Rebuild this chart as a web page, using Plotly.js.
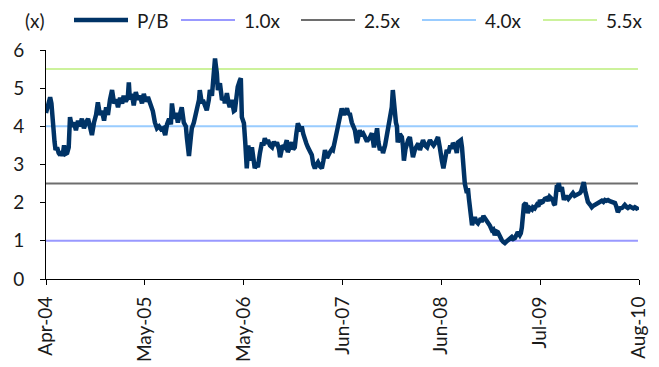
<!DOCTYPE html>
<html>
<head>
<meta charset="utf-8">
<script src="https://cdn.plot.ly/plotly-3.0.1.min.js"></script>
<style>
  html, body { margin: 0; padding: 0; background: #fff; }
  #chart { width: 659px; height: 367px; }
</style>
</head>
<body>
<div id="chart"></div>
<script>
// Price-to-book ratio history with fixed valuation bands
const pbDates = [
  '2004-04-19','2004-04-27','2004-05-05','2004-05-10','2004-05-16','2004-05-22','2004-05-26','2004-06-01','2004-06-07','2004-06-13',
  '2004-06-18','2004-06-22','2004-06-28','2004-07-04','2004-07-10','2004-07-16','2004-07-21','2004-07-28','2004-08-05','2004-08-13',
  '2004-08-21','2004-08-28','2004-09-05','2004-09-13','2004-09-21','2004-09-29','2004-10-06','2004-10-14','2004-10-22','2004-10-30',
  '2004-11-06','2004-11-14','2004-11-22','2004-11-30','2004-12-08','2004-12-15','2004-12-23','2004-12-31',
  '2005-01-08','2005-01-16','2005-01-23','2005-01-31','2005-02-08','2005-02-14','2005-02-22','2005-03-02','2005-03-06','2005-03-10',
  '2005-03-18','2005-03-25','2005-04-02','2005-04-10','2005-04-18','2005-04-26','2005-05-03','2005-05-11','2005-05-19','2005-05-27',
  '2005-06-03','2005-06-07','2005-06-15','2005-06-23','2005-07-01','2005-07-09','2005-07-17','2005-07-25','2005-08-01','2005-08-09',
  '2005-08-16','2005-08-20','2005-08-28','2005-09-05','2005-09-12','2005-09-20','2005-09-27','2005-10-05','2005-10-13','2005-10-17',
  '2005-10-25','2005-11-01','2005-11-05','2005-11-13','2005-11-19','2005-11-25','2005-12-03','2005-12-06','2005-12-14','2005-12-18',
  '2005-12-26',
  '2006-01-02','2006-01-10','2006-01-14','2006-01-22','2006-01-26','2006-01-30','2006-02-03','2006-02-06','2006-02-10','2006-02-14',
  '2006-02-22','2006-03-02','2006-03-10','2006-03-13','2006-03-21','2006-03-28','2006-04-01','2006-04-09','2006-04-17','2006-04-21',
  '2006-04-28','2006-05-02','2006-05-10','2006-05-14','2006-05-18','2006-05-26','2006-05-31','2006-06-02','2006-06-06','2006-06-12',
  '2006-06-18','2006-06-26','2006-07-01','2006-07-07','2006-07-13','2006-07-19','2006-07-27','2006-08-04','2006-08-09','2006-08-15',
  '2006-08-21','2006-08-27','2006-09-04','2006-09-12','2006-09-19','2006-09-25','2006-10-01','2006-10-09','2006-10-13','2006-10-19',
  '2006-10-23','2006-10-31','2006-11-08','2006-11-12','2006-11-20','2006-11-27','2006-12-03','2006-12-09','2006-12-15','2006-12-21',
  '2006-12-29',
  '2007-01-05','2007-01-11','2007-01-17','2007-01-23','2007-01-29','2007-02-06','2007-02-13','2007-02-19','2007-02-25','2007-03-03',
  '2007-03-09','2007-03-17','2007-03-24','2007-03-30','2007-04-05','2007-04-13','2007-04-21','2007-04-24','2007-05-02','2007-05-06',
  '2007-05-13','2007-05-21','2007-05-27','2007-06-01','2007-06-05','2007-06-09','2007-06-17','2007-06-23','2007-06-29','2007-07-06',
  '2007-07-10','2007-07-18','2007-07-22','2007-07-30','2007-08-07','2007-08-12','2007-08-18','2007-08-26','2007-09-01','2007-09-07',
  '2007-09-15','2007-09-18','2007-09-26','2007-10-04','2007-10-12','2007-10-18','2007-10-24','2007-10-29','2007-11-04','2007-11-12',
  '2007-11-16','2007-11-24','2007-11-30','2007-12-08','2007-12-14','2007-12-20','2007-12-24','2007-12-28',
  '2008-01-01','2008-01-05','2008-01-09','2008-01-12','2008-01-20','2008-01-28','2008-02-01','2008-02-05','2008-02-11','2008-02-16',
  '2008-02-22','2008-02-28','2008-03-07','2008-03-11','2008-03-19','2008-03-26','2008-04-01','2008-04-07','2008-04-15','2008-04-19',
  '2008-04-27','2008-05-05','2008-05-10','2008-05-16','2008-05-24','2008-05-30','2008-06-05','2008-06-12','2008-06-16','2008-06-23',
  '2008-06-27','2008-07-01','2008-07-07','2008-07-12','2008-07-20','2008-07-26','2008-08-01','2008-08-09','2008-08-13','2008-08-21',
  '2008-08-28','2008-09-01','2008-09-09','2008-09-13','2008-09-17','2008-09-21','2008-09-28','2008-10-06','2008-10-10','2008-10-14',
  '2008-10-18','2008-10-26','2008-11-01','2008-11-06','2008-11-12','2008-11-18','2008-11-26','2008-12-04','2008-12-09','2008-12-15',
  '2008-12-21','2008-12-26',
  '2009-01-03','2009-01-11','2009-01-16','2009-01-22','2009-01-28','2009-02-03','2009-02-11','2009-02-18','2009-02-24','2009-03-02',
  '2009-03-08','2009-03-14','2009-03-21','2009-03-29','2009-04-04','2009-04-10','2009-04-16','2009-04-21','2009-04-29','2009-05-03',
  '2009-05-07','2009-05-11','2009-05-15','2009-05-22','2009-05-26','2009-05-30','2009-06-07','2009-06-15','2009-06-19','2009-06-26',
  '2009-07-04','2009-07-10','2009-07-16','2009-07-21','2009-07-27','2009-08-04','2009-08-12','2009-08-18','2009-08-23','2009-08-31',
  '2009-09-04','2009-09-08','2009-09-12','2009-09-16','2009-09-20','2009-09-23','2009-09-27','2009-10-03','2009-10-09','2009-10-13',
  '2009-10-17','2009-10-22','2009-10-28','2009-11-03','2009-11-09','2009-11-17','2009-11-21','2009-11-28','2009-12-06','2009-12-12',
  '2009-12-18','2009-12-23','2009-12-30',
  '2010-01-02','2010-01-08','2010-01-14','2010-01-18','2010-01-26','2010-02-02','2010-02-08','2010-02-14','2010-02-22','2010-02-28',
  '2010-03-05','2010-03-13','2010-03-19','2010-03-25','2010-03-31','2010-04-06','2010-04-13','2010-04-21','2010-04-27','2010-05-03',
  '2010-05-08','2010-05-14','2010-05-22','2010-05-30','2010-06-05','2010-06-10','2010-06-18','2010-06-22','2010-06-30','2010-07-08',
  '2010-07-13','2010-07-19','2010-07-27','2010-07-31'
];

const pbValues = [
  4.35,4.55,4.76,4.6,3.9,3.6,3.38,3.45,3.3,3.25,
  3.35,3.22,3.5,3.28,3.3,3.45,4.24,4.0,4.1,3.9,
  4.15,4.0,4.2,3.95,4.1,4.2,4.0,3.77,4.1,4.3,
  4.63,4.3,4.4,4.15,4.5,4.3,4.7,4.95,
  4.6,4.7,4.5,4.75,4.6,4.8,4.65,4.75,5.15,4.7,
  4.85,4.55,4.9,4.7,4.8,4.6,4.85,4.65,4.77,4.6,
  4.5,4.4,4.1,3.95,4.0,3.92,3.95,3.77,4.05,4.2,
  4.05,4.6,4.2,4.35,4.1,4.3,4.5,4.1,4.0,3.7,
  3.22,3.7,3.95,4.1,4.3,4.42,4.7,4.95,4.6,4.69,
  4.5,
  4.42,4.7,4.95,4.8,5.13,5.5,5.78,5.6,5.4,4.95,
  5.13,4.69,4.75,4.6,4.87,4.6,4.5,4.69,4.4,4.42,
  4.8,5.03,5.2,5.26,4.24,4.08,3.6,3.19,2.9,3.5,
  3.1,3.45,3.2,2.9,3.0,2.93,3.3,3.58,3.5,3.69,
  3.55,3.64,3.5,3.45,3.6,3.5,3.58,3.4,3.19,3.4,
  3.5,3.45,3.64,3.32,3.5,3.58,3.4,3.45,3.8,4.08,
  3.95,
  4.0,3.8,3.64,3.55,3.45,3.35,3.25,3.0,2.9,3.0,
  3.06,2.95,2.9,3.1,3.38,3.17,3.3,3.32,3.4,3.38,
  3.6,3.9,4.05,4.16,4.35,4.47,4.3,4.4,4.47,4.3,
  4.35,4.1,4.03,3.9,3.56,3.7,3.9,3.75,3.8,3.72,
  3.6,3.64,3.7,3.82,3.45,3.7,3.95,3.6,3.38,3.45,
  3.3,3.5,3.72,4.16,4.3,4.5,4.95,4.6,
  4.24,4.1,4.0,3.58,3.8,3.72,3.5,3.1,3.4,3.56,
  3.65,3.72,3.45,3.19,3.4,3.5,3.55,3.38,3.55,3.64,
  3.5,3.45,3.55,3.64,3.55,3.5,3.56,3.65,3.72,3.45,
  3.2,3.1,2.9,3.1,3.38,3.3,3.45,3.45,3.56,3.5,
  3.3,3.58,3.6,3.64,3.45,3.1,2.5,2.25,2.38,2.1,
  1.8,1.41,1.55,1.62,1.5,1.46,1.55,1.54,1.65,1.6,
  1.55,1.49,
  1.4,1.28,1.3,1.15,1.25,1.23,1.1,1.02,0.97,0.94,
  0.98,1.02,1.05,1.1,1.05,1.07,1.15,1.23,1.15,1.2,
  1.35,1.54,1.94,1.99,1.85,1.73,1.86,1.82,1.88,1.85,
  1.94,1.9,2.07,2.0,2.02,2.1,2.12,2.05,2.15,2.1,
  2.07,1.97,1.94,2.2,2.46,2.4,2.51,2.3,2.41,2.2,
  2.07,2.15,2.15,2.1,2.15,2.2,2.25,2.18,2.2,2.22,
  2.25,2.3,2.51,
  2.54,2.3,2.15,2.02,1.95,1.88,1.92,1.94,1.98,2.0,
  2.02,2.05,2.02,2.07,2.05,2.07,2.04,2.02,2.0,1.99,
  1.9,1.75,1.85,1.86,1.9,1.94,1.88,1.86,1.9,1.88,
  1.85,1.88,1.85,1.8
];

// Constant valuation bands (x multiples of book value)
const bandValues = [1.0, 2.5, 4.0, 5.5];
const bandNames = ['1.0x', '2.5x', '4.0x', '5.5x'];

// Axis ticks
const xTickDates = ['2004-04-19','2005-05-07','2006-05-25','2007-06-12','2008-06-29','2009-07-17','2010-08-04'];
const xTickLabels = ['Apr-04','May-05','May-06','Jun-07','Jun-08','Jul-09','Aug-10'];
const yTicks = [0, 1, 2, 3, 4, 5, 6];

const FONT = 'Lato, "Liberation Sans", Arial, sans-serif';
const TEXT_COLOR = '#1a1a1a';
const FONT_SIZE = 19;

const pbStyle = { color: '#003366', width: 4.5 };
const bandStyles = [
  { color: '#9999ff', width: 2 },
  { color: '#6e6e6e', width: 2 },
  { color: '#99ccff', width: 2 },
  { color: '#ccf29c', width: 2 }
];

const firstDate = pbDates[0];
const lastDate = pbDates[pbDates.length - 1];

const traces = [];
bandValues.forEach((v, i) => {
  traces.push({
    x: [firstDate, lastDate],
    y: [v, v],
    type: 'scatter',
    mode: 'lines',
    name: bandNames[i],
    line: bandStyles[i],
    hoverinfo: 'skip',
    showlegend: false
  });
});
traces.push({
  x: pbDates,
  y: pbValues,
  type: 'scatter',
  mode: 'lines',
  name: 'P/B',
  line: { color: pbStyle.color, width: pbStyle.width, shape: 'linear' },
  showlegend: false
});

// Legend row drawn above the plot: sample line followed by its label
const legendItems = [
  { name: 'P/B', style: pbStyle, x: 28 },
  { name: bandNames[0], style: bandStyles[0], x: 135 },
  { name: bandNames[1], style: bandStyles[1], x: 255 },
  { name: bandNames[2], style: bandStyles[2], x: 376 },
  { name: bandNames[3], style: bandStyles[3], x: 497 }
];
const LEGEND_LINE = 54;
const LEGEND_GAP = 7;
const LEGEND_Y = 30;

const shapes = legendItems.map(it => ({
  type: 'line',
  xref: 'paper', yref: 'paper',
  xsizemode: 'pixel', ysizemode: 'pixel',
  xanchor: 0, yanchor: 1,
  x0: it.x, x1: it.x + LEGEND_LINE,
  y0: LEGEND_Y, y1: LEGEND_Y,
  line: { color: it.style.color, width: it.style.width }
}));

const annotations = legendItems.map(it => ({
  text: it.name,
  xref: 'paper', yref: 'paper',
  x: 0, y: 1,
  xshift: it.x + LEGEND_LINE + LEGEND_GAP,
  yshift: LEGEND_Y,
  xanchor: 'left', yanchor: 'middle',
  showarrow: false,
  font: { family: FONT, size: FONT_SIZE, color: TEXT_COLOR }
}));
annotations.push({
  text: '(x)',
  xref: 'paper', yref: 'paper',
  x: 0, y: 1,
  xshift: -23,
  yshift: LEGEND_Y,
  xanchor: 'left', yanchor: 'middle',
  showarrow: false,
  font: { family: FONT, size: FONT_SIZE, color: TEXT_COLOR }
});

const layout = {
  width: 659,
  height: 367,
  margin: { l: 46, r: 20, t: 50, b: 88, pad: 0 },
  paper_bgcolor: '#ffffff',
  plot_bgcolor: '#ffffff',
  showlegend: false,
  font: { family: FONT, size: FONT_SIZE, color: TEXT_COLOR },
  xaxis: {
    type: 'date',
    range: [xTickDates[0], xTickDates[xTickDates.length - 1]],
    tickmode: 'array',
    tickvals: xTickDates,
    ticktext: xTickLabels,
    tickangle: -90,
    ticks: 'outside',
    ticklen: 5,
    tickwidth: 1,
    tickcolor: '#000',
    showline: true,
    linecolor: '#000',
    linewidth: 1,
    showgrid: false,
    zeroline: false,
    ticklabelstandoff: 4,
    tickfont: { family: FONT, size: FONT_SIZE, color: TEXT_COLOR },
    fixedrange: true
  },
  yaxis: {
    range: [0, 6],
    tickmode: 'array',
    tickvals: yTicks,
    ticktext: yTicks.map(String),
    ticks: 'outside',
    ticklen: 5,
    tickwidth: 1,
    tickcolor: '#000',
    showline: true,
    linecolor: '#000',
    linewidth: 1,
    showgrid: false,
    zeroline: false,
    ticklabelstandoff: 12,
    tickfont: { family: FONT, size: FONT_SIZE, color: TEXT_COLOR },
    fixedrange: true
  },
  shapes: shapes,
  annotations: annotations
};

Plotly.newPlot('chart', traces, layout, { displayModeBar: false, staticPlot: true });
</script>
</body>
</html>
